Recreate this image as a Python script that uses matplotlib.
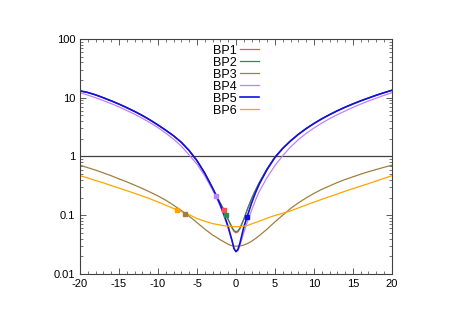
import matplotlib
matplotlib.use('Agg')
import matplotlib.pyplot as plt
from matplotlib.ticker import MultipleLocator, LogLocator, FixedLocator, NullFormatter

plt.rcParams['font.family'] = ['Liberation Sans', 'DejaVu Sans']
plt.rcParams['axes.unicode_minus'] = False

# shared x grid
x = [-20, -19, -18, -17, -16, -15, -14, -13, -12, -11, -10, -9, -8, -7, -6, -5, -4, -3,
     -2.5, -2, -1.5, -1, -0.5, -0.25, 0, 0.25, 0.5, 1, 1.5, 2, 2.5, 3,
     4, 5, 6, 7, 8, 9, 10, 11, 12, 13, 14, 15, 16, 17, 18, 19, 20]

bp5 = [13.1, 12.3, 11.2, 10.0, 8.86, 7.8, 6.78, 5.85, 4.98, 4.17, 3.44, 2.8, 2.25, 1.74, 1.26, 0.85, 0.52, 0.29,
       0.21, 0.15, 0.1, 0.064, 0.037, 0.027, 0.024, 0.026, 0.033, 0.062, 0.1, 0.16, 0.24, 0.34,
       0.6, 0.96, 1.37, 1.84, 2.38, 2.98, 3.64, 4.37, 5.15, 6.0, 6.9, 7.85, 8.86, 9.9, 11.05, 12.2, 13.4]
bp2 = [13.1, 12.3, 11.2, 10.0, 8.86, 7.8, 6.78, 5.85, 4.98, 4.17, 3.44, 2.8, 2.25, 1.74, 1.26, 0.85, 0.52, 0.29,
       0.215, 0.16, 0.12, 0.085, 0.062, 0.055, 0.052, 0.054, 0.06, 0.085, 0.13, 0.19, 0.265, 0.36,
       0.62, 0.98, 1.38, 1.84, 2.38, 2.98, 3.64, 4.37, 5.15, 6.0, 6.9, 7.85, 8.86, 9.9, 11.05, 12.2, 13.4]
bp1 = [13.1, 12.3, 11.2, 10.0, 8.86, 7.8, 6.78, 5.85, 4.98, 4.17, 3.44, 2.8, 2.25, 1.74, 1.26, 0.85, 0.52, 0.29,
       0.215, 0.16, 0.12, 0.084, 0.06, 0.053, 0.05, 0.052, 0.058, 0.084, 0.13, 0.19, 0.265, 0.36,
       0.62, 0.98, 1.38, 1.84, 2.38, 2.98, 3.64, 4.37, 5.15, 6.0, 6.9, 7.85, 8.86, 9.9, 11.05, 12.2, 13.4]
bp4 = [12.2, 11.1, 10.0, 8.96, 7.94, 6.98, 6.07, 5.24, 4.46, 3.75, 3.1, 2.5, 1.97, 1.5, 1.06, 0.74, 0.47, 0.27,
       0.2, 0.14, 0.095, 0.06, 0.036, 0.027, 0.024, 0.025, 0.03, 0.05, 0.08, 0.12, 0.18, 0.255,
       0.44, 0.7, 1.03, 1.45, 1.93, 2.47, 3.05, 3.7, 4.4, 5.15, 5.95, 6.85, 7.8, 8.8, 9.85, 11.0, 12.2]
bp3 = [0.71, 0.645, 0.585, 0.525, 0.47, 0.415, 0.37, 0.325, 0.285, 0.247, 0.213, 0.18, 0.148, 0.12, 0.096, 0.075, 0.058, 0.046,
       0.042, 0.038, 0.035, 0.032, 0.0302, 0.0298, 0.0297, 0.0297, 0.0298, 0.031, 0.033, 0.036, 0.04, 0.045,
       0.058, 0.077, 0.1, 0.13, 0.162, 0.197, 0.235, 0.275, 0.315, 0.36, 0.405, 0.45, 0.5, 0.55, 0.6, 0.655, 0.71]
bp6 = [0.47, 0.43, 0.39, 0.355, 0.32, 0.29, 0.262, 0.236, 0.212, 0.19, 0.168, 0.148, 0.13, 0.115, 0.102, 0.088, 0.079, 0.072,
       0.07, 0.068, 0.066, 0.065, 0.064, 0.0638, 0.0637, 0.0637, 0.064, 0.065, 0.067, 0.071, 0.075, 0.079,
       0.089, 0.099, 0.108, 0.118, 0.133, 0.149, 0.167, 0.186, 0.207, 0.23, 0.256, 0.283, 0.313, 0.345, 0.383, 0.425, 0.47]

# one marked point per benchmark
mark_x = [-1.51, -1.3, -6.52, -2.58, 1.44, -7.59]
mark_y = [0.124, 0.10, 0.103, 0.209, 0.092, 0.121]

labels = ['BP1', 'BP2', 'BP3', 'BP4', 'BP5', 'BP6']
series = [bp1, bp2, bp3, bp4, bp5, bp6]
colors = ['#ff5050', '#2e8b57', '#a08040', '#c080ff', '#1010e0', '#ffa500']
widths = [0.9, 0.9, 0.9, 0.9, 1.2, 0.9]

fig = plt.figure(figsize=(4.52, 3.2), dpi=100)
ax = fig.add_axes([0.177, 0.144, 0.690, 0.734])

ax.axhline(1, color='#404040', linewidth=0.9)

for lab, s, c, w in zip(labels, series, colors, widths):
    ax.plot(x, s, color=c, linewidth=w, label=lab)
for mx, my, c in zip(mark_x, mark_y, colors):
    ax.plot(mx, my, marker='s', markersize=3, color=c, linestyle='none')

ax.set_yscale('log')
ax.set_xlim(-20, 20)
ax.set_ylim(0.01, 100)
ax.xaxis.set_major_locator(MultipleLocator(5))
ax.xaxis.set_minor_locator(MultipleLocator(1))
ax.yaxis.set_major_locator(FixedLocator([0.01, 0.1, 1, 10, 100]))
ax.yaxis.set_minor_locator(LogLocator(base=10, subs=range(2, 10)))
ax.yaxis.set_minor_formatter(NullFormatter())
ax.set_yticklabels(['0.01', '0.1', '1', '10', '100'])

ax.tick_params(which='both', direction='in', top=True, right=True,
               labelsize=8, colors='#404040', labelcolor='black')
ax.tick_params(which='major', length=4, width=0.6)
ax.tick_params(which='minor', length=2, width=0.5)
for sp in ax.spines.values():
    sp.set_color('#404040')
    sp.set_linewidth(0.8)

ax.legend(loc='upper center', bbox_to_anchor=(0.5, 1.008), frameon=False, markerfirst=False,
          fontsize=9, handlelength=1.5, handletextpad=0.3, labelspacing=0.0,
          borderaxespad=0.2)

plt.savefig('out.png', dpi=100)
